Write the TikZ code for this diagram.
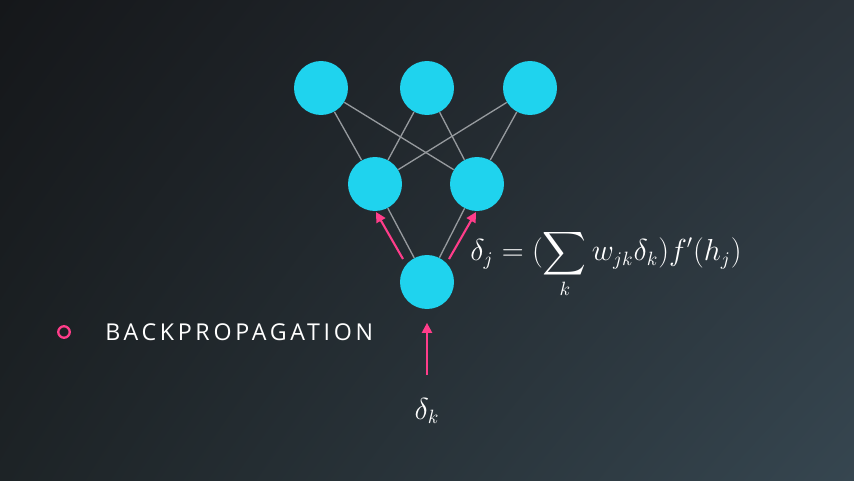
\documentclass[tikz,border=0pt]{standalone}
\usepackage{amsmath}
\usepackage{fontspec}
\usetikzlibrary{arrows.meta,positioning,shadings}
\newfontfamily\bulletfont[LetterSpace=16]{Open Sans}
\definecolor{bgTL}{HTML}{15171A}
\definecolor{bgTR}{HTML}{2B333A}
\definecolor{bgBL}{HTML}{1D2326}
\definecolor{bgBR}{HTML}{364650}
\definecolor{neuron}{HTML}{1FD3EE}
\definecolor{hotpink}{HTML}{FF3D8A}
\definecolor{wire}{HTML}{969A9E}

\begin{document}
\begin{tikzpicture}[
  x=0.02cm, y=-0.02cm,
  unit/.style={circle, fill=neuron, minimum size=1.08cm, inner sep=0pt},
  link/.style={draw=wire, line width=.75pt},
  arrow/.style={-{Triangle[length=2mm,width=2mm]}, line width=1.2pt, draw=hotpink},
  mathlabel/.style={text=white, font=\fontsize{16.2}{20}\selectfont, inner sep=0pt}
]
\useasboundingbox (0,0) rectangle (854,480);
\shade[upper left=bgTL, upper right=bgTR, lower left=bgBL, lower right=bgBR] (0,0) rectangle (854,480);
% units
\node[unit] (top1) at (321,88) {};
\node[unit] (top2) at (427,88) {};
\node[unit] (top3) at (530,88) {};
\node[unit] (hid1) at (375,184) {};
\node[unit] (hid2) at (477,184) {};
\node[unit] (out) at (427,282) {};
% weights
\foreach \t in {top1,top2,top3}
  \foreach \h in {hid1,hid2}
    \draw[link] (\t) -- (\h);
\draw[link] (hid1) -- (out);
\draw[link] (hid2) -- (out);
% error signal
\coordinate (leftTail) at (403,259);
\coordinate (leftHead) at (376,212);
\coordinate (rightTail) at (449,259);
\coordinate (rightHead) at (476,212);
\coordinate (kTail) at (427,375);
\draw[arrow] (leftTail) -- (leftHead);
\draw[arrow] (rightTail) -- (rightHead);
\draw[arrow, shorten >=0.27cm] (kTail) -- (out);
\node[mathlabel] (deltak) at (427,411) {$\delta_k$};
\node[mathlabel, anchor=west] (rule) at (470,264)
  {$\displaystyle \delta_j = (\sum_k w_{jk}\delta_k) f'(h_j)$};
% bullet
\node[circle, draw=hotpink, line width=1.3pt, minimum size=0.23cm, inner sep=0pt] (dot) at (64,332) {};
\node[anchor=west, text=white, font=\bulletfont\fontsize{13.2}{15}\selectfont, inner sep=0pt] (title) at (105,332) {BACKPROPAGATION};
\end{tikzpicture}
\end{document}
